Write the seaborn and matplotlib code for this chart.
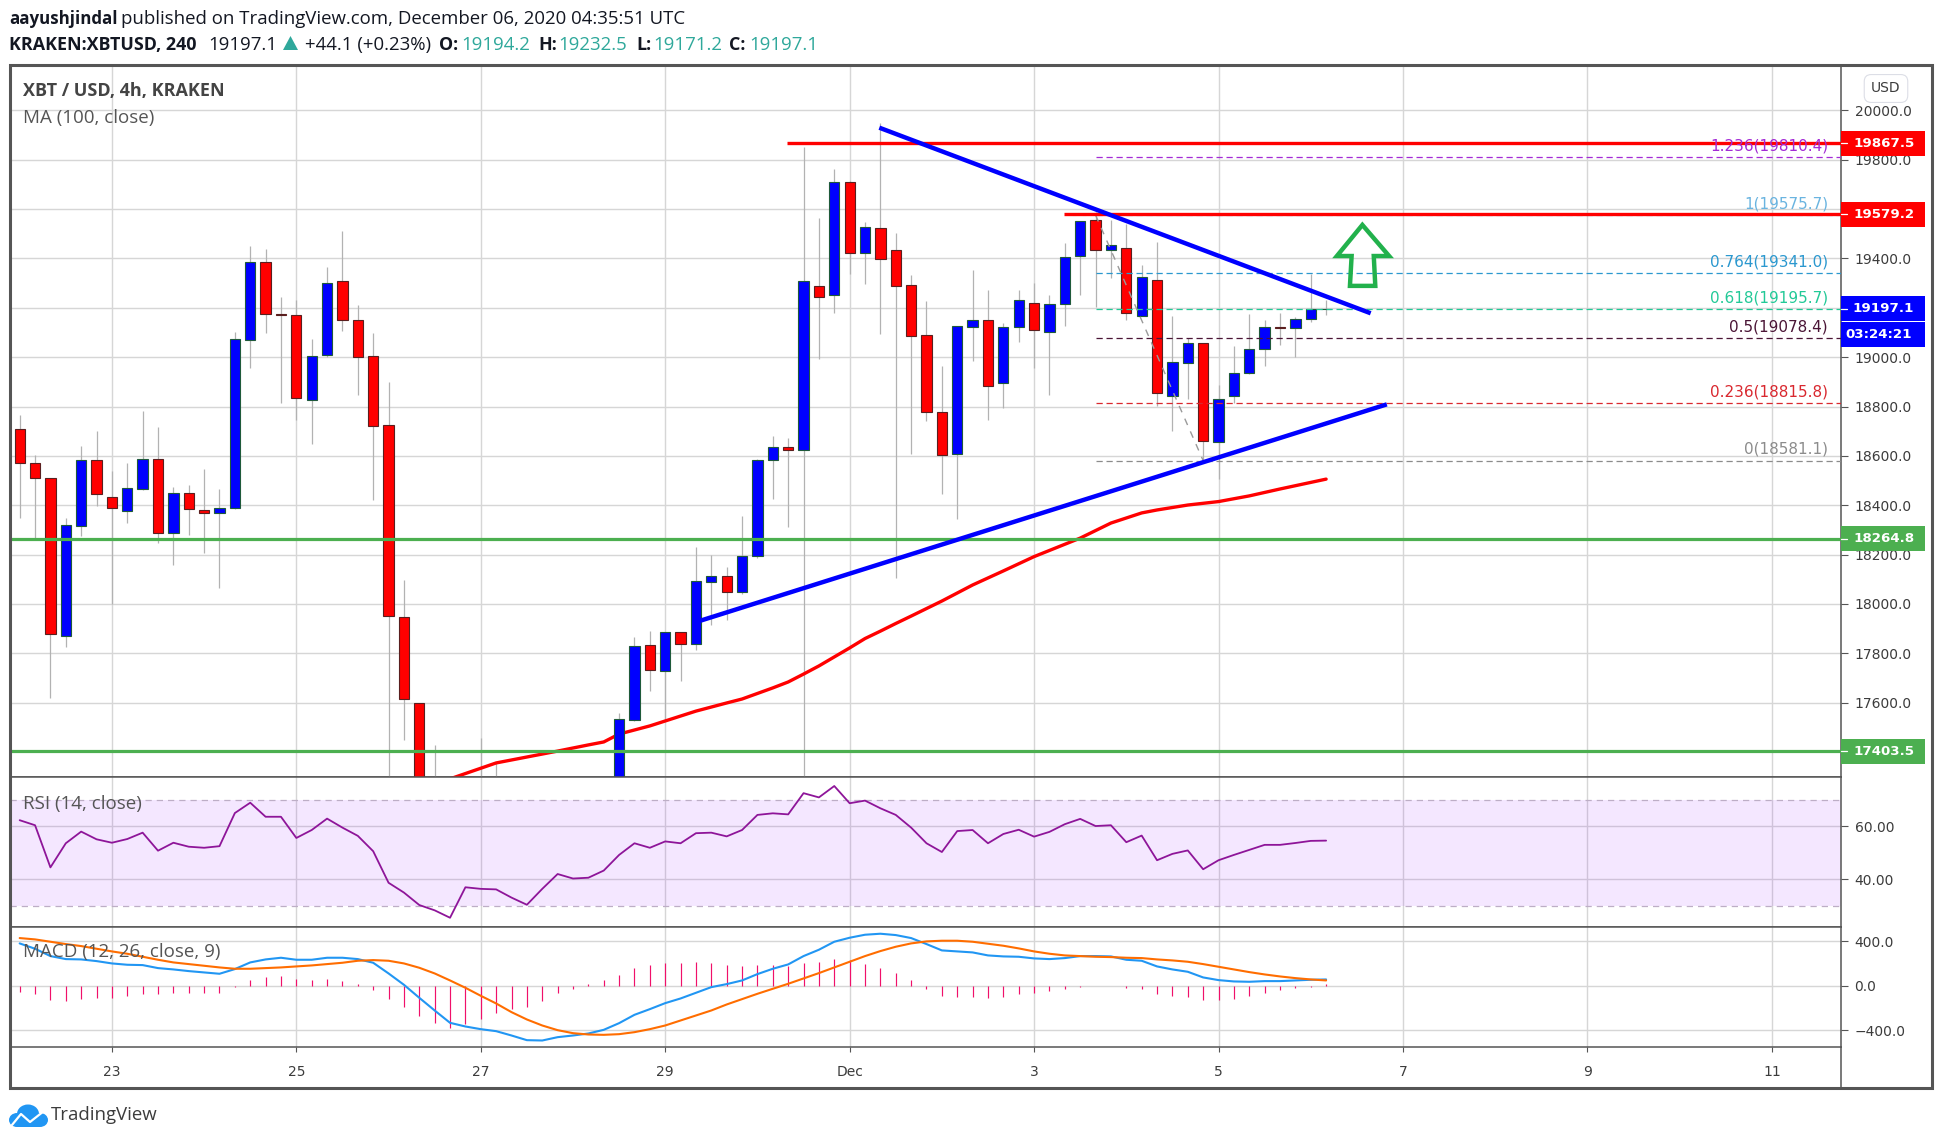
import matplotlib
matplotlib.use('Agg')
import matplotlib.pyplot as plt
from matplotlib.patches import Rectangle, Ellipse, Polygon
import numpy as np
import pandas as pd
import seaborn as sns

# 4h candles, index 0 is Dec 1 00:00, first candle is Nov 22 (index -54)
# candles from -27 to -16 sit below the visible pane, so those are rough guesses
opens = [18708, 18570, 18509, 17872, 18317, 18582, 18432, 18378, 18467, 18586,
         18289, 18449, 18380, 18370, 18388, 19071, 19385, 19176, 19170, 18828,
         19008, 19308, 19150, 19004, 18724, 17946, 17598, 16800, 16600, 16300,
         17150, 17100, 17080, 16800, 16650, 17000, 17230, 17130, 17150, 17200,
         17529, 17833, 17727, 17885, 17837, 18090, 18112, 18047, 18193, 18582,
         18635, 18625, 19287, 19251, 19709, 19423, 19522, 19433, 19291, 19089,
         18777, 18609, 19124, 19150, 18897, 19121, 19218, 19103, 19214, 19409,
         19555, 19436, 19441, 19168, 19312, 18844, 18978, 19056, 18655, 18844,
         18935, 19032, 19121, 19120, 19154, 19194.2]
highs = [18766, 18604, 18510, 18348, 18640, 18701, 18540, 18571, 18782, 18717,
         18473, 18482, 18547, 18466, 19102, 19451, 19438, 19244, 19232, 19074,
         19366, 19511, 19212, 19098, 18900, 18097, 17600, 17429, 17000, 17250,
         17456, 17356, 17200, 17000, 17150, 17280, 17290, 17280, 17280, 17558,
         17865, 17891, 17888, 17888, 18231, 18199, 18150, 18357, 18588, 18681,
         18673, 19852, 19564, 19763, 19712, 19548, 19948, 19503, 19333, 19228,
         18964, 19128, 19353, 19272, 19139, 19272, 19301, 19252, 19463, 19553,
         19590, 19556, 19540, 19374, 19466, 19167, 19078, 19058, 18887, 19045,
         19175, 19151, 19179, 19163, 19337, 19232.5]
lows = [18350, 18266, 17618, 17827, 18277, 18398, 18000, 18329, 18460, 18248,
        18159, 18280, 18208, 18066, 18385, 18956, 19099, 18816, 18746, 18650,
        19002, 19107, 18847, 18421, 17250, 17449, 16700, 16500, 16200, 16250,
        16900, 16900, 16750, 16600, 16550, 16950, 17050, 17050, 17100, 17150,
        17525, 17649, 17530, 17689, 17815, 17915, 17935, 18042, 18188, 18425,
        18313, 17250, 18993, 19180, 19338, 19298, 19095, 18107, 18608, 18742,
        18446, 18346, 18986, 18746, 18795, 19063, 18957, 18847, 19126, 19252,
        19202, 19322, 19151, 19166, 18801, 18701, 18831, 18577, 18507, 18816,
        18932, 18964, 19049, 19001, 19144, 19171.2]
closes = [18570, 18512, 17877, 18319, 18582, 18447, 18390, 18469, 18586, 18289,
          18449, 18386, 18370, 18388, 19073, 19385, 19176, 19173, 18833, 19004,
          19299, 19150, 19002, 18722, 17950, 17614, 16800, 16600, 16300, 17150,
          17100, 17080, 16800, 16650, 17000, 17230, 17130, 17150, 17200, 17533,
          17829, 17731, 17885, 17837, 18092, 18112, 18047, 18193, 18582, 18635,
          18625, 19308, 19245, 19709, 19423, 19526, 19399, 19290, 19087, 18779,
          18605, 19125, 19150, 18885, 19121, 19231, 19111, 19214, 19405, 19551,
          19436, 19453, 19180, 19324, 18856, 18979, 19056, 18662, 18829, 18935,
          19032, 19121, 19119, 19154, 19194, 19197.1]

ma_idx = [-27, -23, -21, -19, -17, -16, -15, -13, -12, -10, -8, -7, -5, -4, -3, -2,
          0, 1, 2, 3, 4, 6, 8, 10, 12, 15, 17, 19, 20, 22, 24, 26, 28, 31]
ma_val = [17270, 17356, 17380, 17404, 17429, 17441, 17473, 17506, 17526, 17566, 17599,
          17615, 17660, 17684, 17716, 17749, 17822, 17860, 17890, 17921, 17951, 18012,
          18077, 18134, 18192, 18267, 18328, 18369, 18381, 18401, 18415, 18438, 18466, 18506]

rsi = [62.3, 60.4, 44.5, 53.6, 58.0, 55.1, 53.8, 55.2, 57.6, 50.8,
       53.8, 52.3, 51.9, 52.5, 65.0, 68.9, 63.6, 63.6, 55.6, 58.6,
       62.9, 59.5, 56.4, 50.6, 38.7, 35.0, 30.3, 28.3, 25.5, 37.0,
       36.4, 36.2, 33.1, 30.4, 36.4, 42.0, 40.3, 40.6, 43.3, 49.2,
       53.6, 51.9, 54.3, 53.6, 57.4, 57.6, 56.2, 58.6, 64.3, 64.9,
       64.5, 72.5, 70.9, 75.2, 68.7, 69.7, 66.8, 64.3, 59.5, 53.6,
       50.3, 58.2, 58.6, 53.6, 57.1, 58.7, 56.1, 57.9, 60.8, 62.8,
       60.1, 60.4, 54.0, 56.5, 47.2, 49.6, 50.9, 43.8, 47.2, 49.2,
       51.1, 53.0, 53.0, 53.7, 54.5, 54.6]

macd = [381, 333, 267, 240, 237, 222, 201, 189, 186, 159,
        147, 132, 120, 108, 150, 210, 237, 252, 234, 234,
        252, 252, 240, 207, 111, 9, -108, -222, -333, -366,
        -390, -408, -447, -489, -492, -462, -447, -429, -396, -336,
        -261, -210, -156, -114, -63, -12, 15, 48, 105, 153,
        192, 267, 324, 396, 432, 459, 468, 456, 429, 375,
        318, 309, 300, 273, 264, 261, 246, 240, 249, 267,
        267, 264, 234, 225, 174, 147, 126, 75, 51, 39,
        36, 42, 42, 48, 54, 57]
signal = [429, 417, 396, 375, 357, 333, 309, 288, 261, 234,
          210, 195, 180, 165, 153, 153, 159, 165, 174, 183,
          195, 207, 225, 231, 225, 201, 162, 111, 48, -18,
          -90, -159, -237, -303, -357, -399, -426, -438, -441, -435,
          -417, -390, -357, -312, -267, -222, -168, -120, -72, -27,
          18, 66, 114, 165, 216, 267, 312, 351, 381, 399,
          405, 405, 396, 378, 360, 336, 309, 288, 273, 267,
          261, 258, 252, 249, 237, 228, 216, 195, 171, 147,
          123, 102, 84, 69, 57, 48]
hist = [-57, -75, -129, -138, -120, -111, -111, -93, -75, -75,
        -66, -66, -66, -66, -12, 48, 75, 84, 57, 48,
        57, 39, 12, -39, -120, -192, -273, -336, -381, -345,
        -300, -246, -210, -192, -138, -66, -30, 12, 48, 93,
        156, 183, 201, 201, 210, 201, 183, 174, 183, 183,
        174, 201, 210, 237, 228, 192, 156, 111, 48, -30,
        -93, -102, -102, -111, -102, -75, -66, -48, -30, -12,
        -6, -6, -21, -30, -75, -93, -102, -129, -129, -120,
        -93, -66, -39, -21, -12, 15]

day_ticks = [-48, -36, -24, -12, 0, 12, 24, 36, 48, 60]
day_labels = ['23', '25', '27', '29', 'Dec', '3', '5', '7', '9', '11']
price_ticks = list(range(17600, 20001, 200))
# these two sit completely under the price tags in the reference
hidden_price_labels = [19200, 19600]
rsi_ticks = [40, 60]
macd_ticks = [-400, 0, 400]

support_levels = [18264.8, 17403.5]
resist_levels = [19867.5, 19579.2]
resist_start = [-4.07, 13.95]
last_price = 19197.1
countdown = '03:24:21'

fib_ratio = ['1.236', '1', '0.764', '0.618', '0.5', '0.236', '0']
fib_price = [19810.4, 19575.7, 19341.0, 19195.7, 19078.4, 18815.8, 18581.1]
fib_color = ['#a32bd6', '#6ab4e0', '#2b98cf', '#22c997', '#4a1536', '#d9282f', '#8c8c8c']

down_line_x, down_line_y = [1.93, 33.9], [19930, 19178]
up_line_x, up_line_y = [-9.73, 34.95], [17932, 18809]
fib_diag_x, fib_diag_y = [16, 23], [19575.7, 18581.1]
arrow_x = [33.36, 35.1, 34.1, 34.2, 32.55, 32.66, 31.7]
arrow_y = [19536, 19410, 19410, 19289, 19289, 19410, 19410]

idx = np.arange(-54, 32)
df = pd.DataFrame({'i': idx, 'open': opens, 'high': highs, 'low': lows, 'close': closes,
                   'rsi': rsi, 'macd': macd, 'signal': signal, 'hist': hist})

sns.set_theme(style='whitegrid', rc={'grid.color': '#d6d6d6', 'grid.linewidth': 1.0,
                                     'axes.edgecolor': '#555555', 'axes.linewidth': 1.1})
plt.rcParams['font.family'] = ['DejaVu Sans']

W, H = 1942, 1143
fig = plt.figure(figsize=(W / 100, H / 100), dpi=100)


def pane(top, bottom):
    return fig.add_axes([10 / W, 1 - bottom / H, 1831 / W, (bottom - top) / H])


ax = pane(65, 777)
ax_rsi = pane(777, 926.5)
ax_macd = pane(926.5, 1047.4)

xlim = (-54.63, 64.5)
for a in (ax, ax_rsi, ax_macd):
    a.set_xlim(*xlim)
    a.set_xticks(day_ticks)
    a.yaxis.tick_right()
    a.tick_params(axis='y', right=True, length=4.8, width=0.8, color='#555555',
                  labelsize=10, labelcolor='#3c3c3c', pad=5)
    a.tick_params(axis='x', bottom=False, labelbottom=False)
    a.grid(True, zorder=0)
    a.set_axisbelow(True)

# candles
up = df['close'] >= df['open']
colors = np.where(up, '#0000ff', '#ff0000')
edges = np.where(up, '#1f5a3a', '#5a1f1f')
ax.vlines(df['i'], df['low'], df['high'], color='#b2b2b2', lw=0.9, zorder=3)
ax.bar(df['i'], (df['close'] - df['open']).abs(), bottom=df[['open', 'close']].min(axis=1),
       width=0.67, color=colors, edgecolor=edges, linewidth=0.8, zorder=4)

sns.lineplot(x=ma_idx, y=ma_val, ax=ax, color='#ff0000', linewidth=2.4, zorder=3.5,
             estimator=None, sort=False)

# horizontal levels
for lvl in support_levels:
    ax.axhline(lvl, color='#4caf50', lw=2.3, zorder=6)
for lvl, start in zip(resist_levels, resist_start):
    ax.hlines(lvl, start, xlim[1], color='#ff0000', lw=2.4, zorder=6)

# fib retracement
for ratio, lvl, col in zip(fib_ratio, fib_price, fib_color):
    ax.hlines(lvl, 16, xlim[1], color=col, lw=0.9, linestyles=(0, (5, 3)), zorder=5)
    ax.annotate(f'{ratio}({lvl:.1f})', xy=(1818 / 1831, lvl), xycoords=ax.get_yaxis_transform(),
                xytext=(0, 8), textcoords='offset points', ha='right', va='center',
                color=col, fontsize=11, zorder=7)
ax.plot(fib_diag_x, fib_diag_y, color='#9a9a9a', lw=1.0, ls=(0, (5, 5)), zorder=5)

# trend lines and arrow
ax.plot(down_line_x, down_line_y, color='#0000ff', lw=3.2, zorder=6.5, solid_capstyle='butt')
ax.plot(up_line_x, up_line_y, color='#0000ff', lw=3.2, zorder=6.5, solid_capstyle='butt')
ax.add_patch(Polygon(np.column_stack([arrow_x, arrow_y]), closed=True, fill=False,
                     ec='#22b14c', lw=3.2, zorder=7))

ax.set_ylim(17299, 20184)
ax.set_yticks(price_ticks)
ax.set_yticklabels(['' if p in hidden_price_labels else f'{p:.1f}' for p in price_ticks])


def tag(value, text, color, text_px=42.6, tick=True):
    tr = ax.get_yaxis_transform()
    ax.add_patch(Rectangle((1, value - 50.5), 84 / 1831, 101, transform=tr, fc=color, ec='none',
                           clip_on=False, zorder=8))
    if tick:
        ax.plot([1, 1 + 6 / 1831], [value, value], transform=tr, color='white', lw=0.9,
                clip_on=False, zorder=9)
    ax.text(1 + text_px / 1831, value, text, transform=tr, color='white', ha='center',
            va='center', fontsize=9.6, fontweight='bold', zorder=9, clip_on=False)


tag(resist_levels[0], f'{resist_levels[0]:.1f}', '#ff0000')
tag(resist_levels[1], f'{resist_levels[1]:.1f}', '#ff0000')
tag(last_price, f'{last_price:.1f}', '#0000ff')
tag(last_price - 104, countdown, '#0000ff', text_px=38, tick=False)
tag(support_levels[0], f'{support_levels[0]:.1f}', '#4caf50')
tag(support_levels[1], f'{support_levels[1]:.1f}', '#4caf50')

# RSI pane
ax_rsi.axhspan(30, 70, color='#9915ff', alpha=0.1, lw=0, zorder=1.5)
for lvl in (30, 70):
    ax_rsi.axhline(lvl, color='#bdaec6', lw=0.9, ls=(0, (5, 4)), zorder=1.6)
sns.lineplot(data=df, x='i', y='rsi', ax=ax_rsi, color='#8e1599', linewidth=1.3, zorder=3,
             estimator=None)
ax_rsi.set_ylim(22.2, 78.6)
ax_rsi.set_yticks(rsi_ticks)
ax_rsi.set_yticklabels([f'{v:.2f}' for v in rsi_ticks])

# MACD pane
ax_macd.vlines(df['i'], 0, df['hist'], color='#f0106a', lw=0.85, zorder=2)
sns.lineplot(data=df, x='i', y='signal', ax=ax_macd, color='#ff6d00', linewidth=1.5, zorder=3,
             estimator=None)
sns.lineplot(data=df, x='i', y='macd', ax=ax_macd, color='#2196f3', linewidth=1.5, zorder=2.8,
             estimator=None)
ax_macd.set_ylim(-554, 533)
ax_macd.set_yticks(macd_ticks)
ax_macd.set_yticklabels(['\u2212400.0', '0.0', '400.0'])
ax_macd.tick_params(axis='x', bottom=True, labelbottom=True, length=3.8, width=0.8,
                    color='#555555', labelsize=10, labelcolor='#3c3c3c', pad=9)
ax_macd.set_xticklabels(day_labels)
for a in (ax, ax_rsi, ax_macd):
    a.set_xlabel('')
    a.set_ylabel('')

# overlay in pixel coordinates for the frame, header and logo
ov = fig.add_axes([0, 0, 1, 1], zorder=10)
ov.set_xlim(0, W)
ov.set_ylim(H, 0)
ov.axis('off')
ov.patch.set_alpha(0)
ov.add_patch(Rectangle((10, 65), 1922, 1023, fill=False, ec='#555555', lw=2.2))
ov.plot([1841, 1841], [1047, 1088], color='#555555', lw=1.1)

hfont = 'Open Sans'
dark = '#131722'
teal = '#2fa89b'
ov.text(9, 19.5, 'aayushjindal', fontfamily=hfont, fontweight='bold', fontsize=12.2, color=dark, va='center')
ov.text(121, 19.5, 'published on TradingView.com, December 06, 2020 04:35:51 UTC', fontfamily=hfont,
        fontsize=13.4, color=dark, va='center')
ov.text(9, 45, 'KRAKEN:XBTUSD, 240', fontfamily=hfont, fontweight='bold', fontsize=12.9, color=dark, va='center')
ov.text(208.5, 45, '19197.1', fontfamily=hfont, fontsize=13.4, color=dark, va='center')
ov.add_patch(Polygon([[283, 50], [298, 50], [290.5, 36]], closed=True, fc=teal, ec='none'))
ov.text(305, 45, '+44.1 (+0.23%)', fontfamily=hfont, fontsize=13.4, color=dark, va='center')
for lab, x_lab, val, x_val in [('O:', 438.6, '19194.2', 461), ('H:', 538, '19232.5', 558),
                               ('L:', 636, '19171.2', 653), ('C:', 729, '19197.1', 749)]:
    ov.text(x_lab, 45, lab, fontfamily=hfont, fontweight='bold', fontsize=12.9, color=dark, va='center')
    ov.text(x_val, 45, val, fontfamily=hfont, fontsize=13.4, color=teal, va='center')

ov.text(23, 90.5, 'XBT / USD, 4h, KRAKEN', fontfamily=hfont, fontweight='bold', fontsize=13,
        color='#444444', va='center')
ov.text(23, 118.5, 'MA (100, close)', fontfamily=hfont, fontsize=13.5, color='#555555', va='center')
ov.text(23, 803.5, 'RSI (14, close)', fontfamily=hfont, fontsize=13.5, color='#555555', va='center')
ov.text(23, 952.5, 'MACD (12, 26, close, 9)', fontfamily=hfont, fontsize=13.5, color='#555555', va='center')
ov.text(1886, 88.5, 'USD', fontsize=10, color='#3c3c3c', ha='center', va='center',
        bbox=dict(boxstyle='round,pad=0.5', fc='white', ec='#dcdee6', lw=0.8))

# logo
logo = '#2196f3'
ov.add_patch(Ellipse((17, 1120), 16, 14, fc=logo, ec='none'))
ov.add_patch(Ellipse((28, 1114), 22, 19, fc=logo, ec='none'))
ov.add_patch(Ellipse((40, 1120), 16, 14, fc=logo, ec='none'))
ov.add_patch(Rectangle((17, 1118), 23, 9, fc=logo, ec='none'))
ov.plot([12, 21, 30, 44], [1125, 1114, 1122, 1111], color='white', lw=1.6)
ov.text(51, 1115.5, 'TradingView', fontfamily=hfont, fontsize=13.4, color='#3c3c3c', va='center')

fig.savefig('out.png', dpi=100)
